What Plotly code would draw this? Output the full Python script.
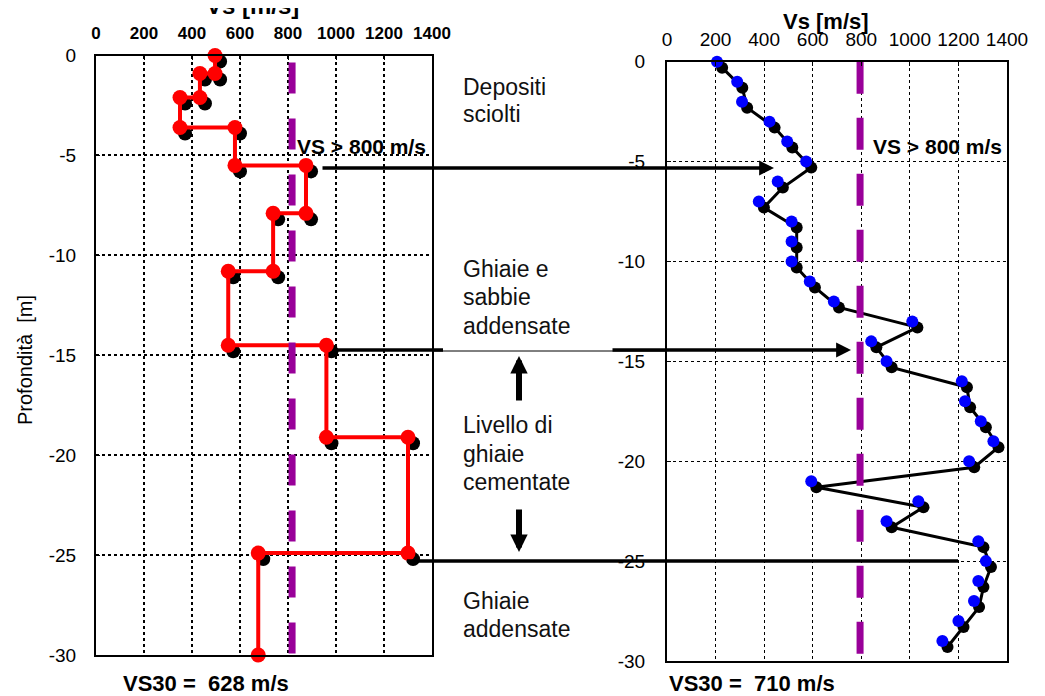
import plotly.graph_objects as go

# ---------------- data ----------------
# Left profile: layered (step) model
left_layer_top = [0, -0.9, -2.1, -3.6, -5.5, -7.9, -10.8, -14.5, -19.1, -24.9]
left_layer_bottom = [-0.9, -2.1, -3.6, -5.5, -7.9, -10.8, -14.5, -19.1, -24.9, -30]
left_layer_vs = [496, 433, 350, 579, 875, 738, 551, 960, 1300, 676]

# Right profile: point measurements every metre
right_depth = [0, -1, -2, -3, -4, -5, -6, -7, -8, -9, -10, -11, -12, -13, -14,
               -15, -16, -17, -18, -19, -20, -21, -22, -23, -24, -25, -26, -27, -28, -29]
right_vs = [206, 289, 309, 422, 495, 573, 456, 378, 513, 513, 513, 588, 687, 1010, 841,
            904, 1214, 1227, 1292, 1344, 1244, 594, 1035, 904, 1282, 1313, 1282, 1264, 1200, 1134]

threshold_left = [817, 817]
threshold_right = [795, 795]
threshold_depth = [0, -30]

x_ticks = [0, 200, 400, 600, 800, 1000, 1200, 1400]
x_tick_labels = ["0", "200", "400", "600", "800", "1000", "1200", "1400"]
y_ticks = [0, -5, -10, -15, -20, -25, -30]
y_tick_labels = ["0", "-5", "-10", "-15", "-20", "-25", "-30"]

# ---------------- build step path ----------------
left_x, left_y = [], []
for top, bot, v in zip(left_layer_top, left_layer_bottom, left_layer_vs):
    left_x += [v, v]
    left_y += [top, bot]

SHADOW_DX = 21      # m/s
SHADOW_DY = -0.3    # m

# The page body has an 8px margin: the figure is sized to the remaining viewport
# and layout positions below are given in page pixels, converted to paper fractions.
OFF = 8
W, H = 1045 - OFF, 696 - OFF
def px(x):
    return (x - OFF) / W
def py(y):
    return 1 - (y - OFF) / H

FONT = "Liberation Sans, Arial, sans-serif"

fig = go.Figure()

# Left panel
fig.add_trace(go.Scatter(x=[v + SHADOW_DX for v in left_x], y=[d + SHADOW_DY for d in left_y],
                         mode="markers", marker=dict(color="black", size=14),
                         xaxis="x", yaxis="y", cliponaxis=False, hoverinfo="skip"))
fig.add_trace(go.Scatter(x=left_x, y=left_y, mode="lines+markers",
                         line=dict(color="#ff0000", width=4),
                         marker=dict(color="#ff0000", size=15),
                         xaxis="x", yaxis="y", cliponaxis=False))
fig.add_trace(go.Scatter(x=threshold_left, y=threshold_depth, mode="lines",
                         line=dict(color="#990099", width=7, dash="0px,7px,31px,18px"),
                         xaxis="x", yaxis="y", cliponaxis=False))

# Right panel
fig.add_trace(go.Scatter(x=[v + SHADOW_DX for v in right_vs], y=[d + SHADOW_DY for d in right_depth],
                         mode="lines+markers", marker=dict(color="black", size=12),
                         line=dict(color="black", width=3),
                         xaxis="x2", yaxis="y2", cliponaxis=False, hoverinfo="skip"))
fig.add_trace(go.Scatter(x=right_vs, y=right_depth, mode="markers",
                         marker=dict(color="#0000ff", size=12),
                         xaxis="x2", yaxis="y2", cliponaxis=False))
fig.add_trace(go.Scatter(x=threshold_right, y=threshold_depth, mode="lines",
                         line=dict(color="#990099", width=7, dash="32px,24px"),
                         xaxis="x2", yaxis="y2", cliponaxis=False))

common_x = dict(range=[0, 1400], tickvals=x_ticks, ticktext=x_tick_labels, side="top",
                showline=True, mirror=True, linecolor="black", linewidth=2,
                showgrid=True, gridcolor="black", griddash="dot", zeroline=False,
                ticks="inside", ticklen=4, tickcolor="black", fixedrange=True,
                automargin=False)
common_y = dict(range=[-30, 0], tickvals=y_ticks, ticktext=y_tick_labels,
                showline=True, mirror=True, linecolor="black", linewidth=2,
                showgrid=True, gridcolor="black", griddash="dot", zeroline=False,
                ticks="inside", ticklen=4, tickcolor="black", fixedrange=True,
                automargin=False)

fig.update_layout(
    width=W, height=H, autosize=False,
    margin=dict(l=0, r=0, t=0, b=0, pad=0, autoexpand=False),
    paper_bgcolor="white", plot_bgcolor="white",
    showlegend=False,
    font=dict(family=FONT, color="black"),
    xaxis=dict(common_x, domain=[px(96), px(432)], anchor="y", gridwidth=2,
               tickfont=dict(size=17, family="Liberation Sans, Arial", weight="bold"),
               ticklabelstandoff=8),
    yaxis=dict(common_y, domain=[py(655), py(55.5)], anchor="x", gridwidth=2,
               tickfont=dict(size=19), ticklabelstandoff=14),
    xaxis2=dict(common_x, domain=[px(667), px(1007)], anchor="y2", gridwidth=1,
                tickfont=dict(size=19), ticklabelstandoff=6),
    yaxis2=dict(common_y, domain=[py(661), py(61.7)], anchor="x2", gridwidth=1,
                tickfont=dict(size=19), ticklabelstandoff=16),
)

ann = []
def text(t, x, y, size=23, bold=False, xanchor="left", angle=0, color="#111111",
         yanchor="middle"):
    ann.append(dict(text=t, x=px(x), y=py(y), xref="paper", yref="paper",
                    xanchor=xanchor, yanchor=yanchor, showarrow=False, textangle=angle,
                    borderpad=0,
                    font=dict(size=size, color=color, family=FONT,
                              weight="bold" if bold else "normal")))

# axis titles (the left one is cut by the top edge, as in the original)
text("Vs [m/s]", 252, 5, size=24, bold=True, xanchor="center", color="black")
text("Vs [m/s]", 826, 21, size=22, bold=True, xanchor="center", color="black")
text("Profondità\u00a0 [m]", 25, 360, size=20, xanchor="center", angle=-90, color="black")

# threshold labels
text("VS > 800 m/s", 296, 146, size=21, bold=True, color="black")
text("VS > 800 m/s", 872, 146, size=21, bold=True, color="black")

# layer descriptions
for t, y in [("Depositi", 87), ("sciolti", 113.5),
             ("Ghiaie e", 268.5), ("sabbie", 297), ("addensate", 325.5),
             ("Livello di", 425), ("ghiaie", 453.5), ("cementate", 482),
             ("Ghiaie", 601), ("addensate", 628.5)]:
    text(t, 462, y)

# VS30 labels
text("VS30 =\u00a0 628 m/s", 122, 683, size=22, bold=True, color="black")
text("VS30 =\u00a0 710 m/s", 668, 683, size=22, bold=True, color="black")

# arrows
def arrow(xtip, ytip, xtail, ytail, width, size):
    ann.append(dict(text="", x=px(xtip), y=py(ytip), xref="paper", yref="paper",
                    ax=xtail - xtip, ay=ytail - ytip, axref="pixel", ayref="pixel",
                    showarrow=True, arrowhead=2, arrowwidth=width, arrowsize=size,
                    arrowcolor="black", standoff=0, startstandoff=0))

arrow(774, 168, 321, 168, 3.3, 0.9)
arrow(851, 350, 611, 350, 3.3, 0.9)
arrow(519, 356, 519, 402, 6, 0.58)
arrow(519, 552, 519, 508, 6, 0.58)

fig.update_layout(annotations=ann)

shapes = [
    dict(type="line", xref="paper", yref="paper", x0=px(337), x1=px(443), y0=py(350), y1=py(350),
         line=dict(color="black", width=3.3)),
    dict(type="line", xref="paper", yref="paper", x0=px(432), x1=px(667), y0=py(351), y1=py(351),
         line=dict(color="black", width=1)),
    dict(type="line", xref="paper", yref="paper", x0=px(407), x1=px(958), y0=py(561), y1=py(561),
         line=dict(color="black", width=3.5)),
]
fig.update_layout(shapes=shapes)

fig.write_html("out.html")
